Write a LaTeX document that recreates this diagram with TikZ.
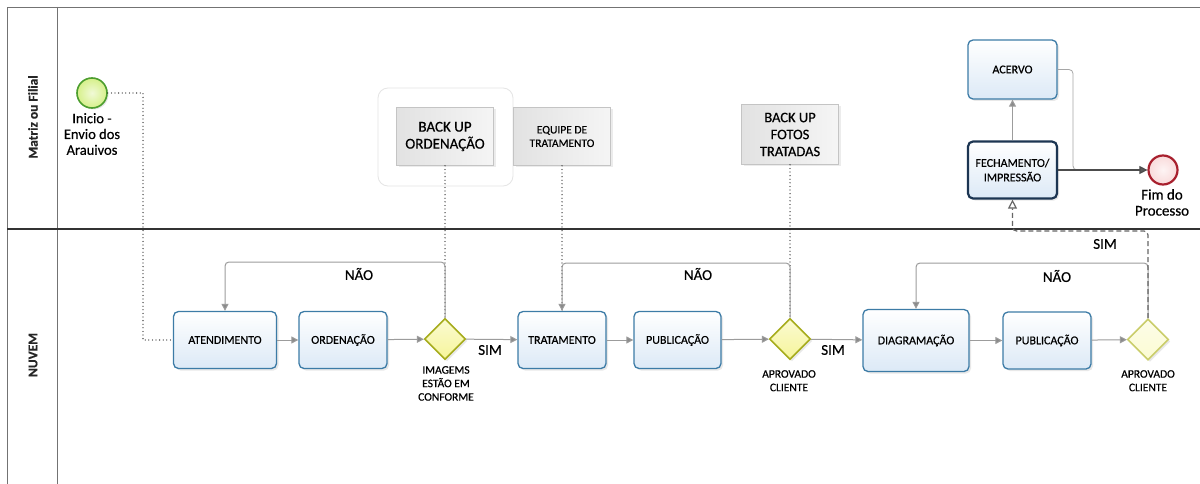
\documentclass[tikz,border=0pt]{standalone}
\usepackage{fontspec}
\setmainfont{Carlito}[FakeBold=0.45]
\usetikzlibrary{shapes.geometric,arrows.meta,shadows}

\definecolor{taskline}{HTML}{3C7BA6}
\definecolor{taskfill}{HTML}{DCE9F6}
\definecolor{closeline}{HTML}{1C3552}
\definecolor{gateline}{HTML}{A6AC1C}
\definecolor{gatefill}{HTML}{F6F59A}
\definecolor{gatepaleline}{HTML}{CACD6A}
\definecolor{gatepalefill}{HTML}{FBFBD2}
\definecolor{startline}{HTML}{4C9E2E}
\definecolor{startfill}{HTML}{D6F08A}
\definecolor{endline}{HTML}{A8202E}
\definecolor{endfill}{HTML}{F9DADA}
\definecolor{flowgray}{HTML}{9C9C9C}
\definecolor{tipgray}{HTML}{8A8A8A}
\definecolor{notefill}{HTML}{E2E2E2}
\definecolor{noteline}{HTML}{C4C4C4}

\tikzset{
  poolline/.style={draw=black!55, line width=0.9pt},
  lanesep/.style={draw=black!80, line width=1.6pt},
  lanelabel/.style={font=\bfseries\fontsize{13.5}{15}\selectfont, text=black!85},
  task/.style={draw=taskline, line width=1.3pt, rounded corners=5pt,
    top color=white, bottom color=taskfill, minimum width=88pt, minimum height=57pt,
    align=center, inner sep=2pt, font=\fontsize{12}{14.5}\selectfont,
    drop shadow={shadow xshift=2pt, shadow yshift=-2pt, opacity=0.18}},
  closing/.style={draw=closeline, line width=2.2pt},
  gate/.style={diamond, draw=gateline, line width=1.6pt, top color=gatefill!45, bottom color=gatefill,
    minimum width=41pt, minimum height=41pt, inner sep=0pt,
    drop shadow={shadow xshift=2pt, shadow yshift=-2pt, opacity=0.18}},
  gatepale/.style={draw=gatepaleline, top color=gatepalefill!50, bottom color=gatepalefill},
  gatelabel/.style={anchor=north, align=center, font=\fontsize{11.5}{13.5}\selectfont, inner sep=0pt},
  startev/.style={circle, draw=startline, line width=1.6pt, inner color=startfill!35, outer color=startfill,
    minimum size=30pt, inner sep=0pt,
    drop shadow={shadow xshift=1.5pt, shadow yshift=-1.5pt, opacity=0.2}},
  endev/.style={circle, draw=endline, line width=2.2pt, inner color=endfill!30, outer color=endfill,
    minimum size=29pt, inner sep=0pt},
  evlabel/.style={anchor=north, align=center, font=\fontsize{14.5}{15.8}\selectfont, inner sep=0pt},
  annot/.style={draw=noteline, line width=0.7pt, left color=notefill, right color=white!96!black,
    align=center, inner sep=2pt, minimum width=97pt, minimum height=58pt,
    drop shadow={shadow xshift=2pt, shadow yshift=-2pt, opacity=0.15}},
  halo/.style={draw=black!10, line width=0.8pt, rounded corners=10pt, fill=white,
    minimum width=135pt, minimum height=98pt},
  flow/.style={draw=flowgray, line width=1pt, rounded corners=4pt,
    -{Triangle[length=7pt, width=7pt, fill=tipgray]}},
  flowdark/.style={draw=black!70, line width=1.1pt,
    -{Triangle[length=8pt, width=8pt, fill=black!65]}},
  flowthin/.style={draw=black!35, line width=0.8pt, rounded corners=4pt},
  assoc/.style={draw=black!85, line width=1.3pt, line cap=round, dash pattern=on 0pt off 3.6pt},
  yesflow/.style={draw=black!60, line width=1.2pt, dash pattern=on 5pt off 3pt, rounded corners=4pt,
    -{Triangle[open, length=9pt, width=9pt, fill=white]}},
  flowlabel/.style={font=\fontsize{15}{16}\selectfont, inner sep=0pt}
}

\begin{document}
\begin{tikzpicture}[x=1pt, y=-1pt]
  \useasboundingbox (0,0) rectangle (1200,484);
  \fill[white] (0,0) rectangle (1200,484);

  % pool frame and lanes
  \draw[poolline] (1200,7) -- (7,7) -- (7,484);
  \draw[poolline] (57,7) -- (57,484);
  \draw[lanesep] (7,229) -- (1200,229);
  \node[lanelabel, rotate=90] (laneTop) at (33,117) {Matriz ou Filial};
  \node[lanelabel, rotate=90] (laneCloud) at (33,355) {NUVEM};

  % upper lane: start, data notes, closing tasks, end
  \node[startev] (start) at (92,93) {};
  \node[evlabel] (startlbl) at (92,113) {Inicio -\\Envio dos\\Arauivos};

  \node[halo] (bkhalo) at (445.5,137) {};
  \node[annot, font=\fontsize{15}{17}\selectfont] (bk1) at (445,136.5) {BACK UP\\ORDENAÇÃO};
  \node[annot, font=\fontsize{11.5}{13.5}\selectfont] (team) at (562,136.5) {EQUIPE DE\\TRATAMENTO};
  \node[annot, font=\fontsize{14.5}{17}\selectfont, minimum height=60pt] (bk2) at (790,134.5) {BACK UP\\FOTOS\\TRATADAS};

  \node[task, minimum width=89pt, minimum height=59pt] (acervo) at (1012.5,69.5) {ACERVO};
  \node[task, closing, minimum width=89pt, minimum height=57pt] (fech) at (1012.5,170) {FECHAMENTO/\\IMPRESSÃO};
  \node[endev] (end) at (1163,170) {};
  \node[evlabel, font=\fontsize{15}{16}\selectfont] (endlbl) at (1162,189) {Fim do\\Processo};

  % lower lane: tasks and gateways
  \node[task, minimum width=103pt] (aten) at (225,340) {ATENDIMENTO};
  \node[task] (orden) at (343,340) {ORDENAÇÃO};
  \node[gate] (g1) at (445,339) {};
  \node[gatelabel] (g1lbl) at (446,366) {IMAGEMS\\ESTÃO EM\\CONFORME};
  \node[task] (trat) at (562,340) {TRATAMENTO};
  \node[task, minimum width=87pt] (pub1) at (677.5,340) {PUBLICAÇÃO};
  \node[gate] (g2) at (790,339) {};
  \node[gatelabel] (g2lbl) at (789,370) {APROVADO\\CLIENTE};
  \node[task, minimum width=106pt, minimum height=62pt] (diag) at (916,340.5) {DIAGRAMAÇÃO};
  \node[task] (pub2) at (1047,340.5) {PUBLICAÇÃO};
  \node[gate, gatepale] (g3) at (1148,339.5) {};
  \node[gatelabel] (g3lbl) at (1148,370) {APROVADO\\CLIENTE};

  % routing points
  \coordinate (startbend) at (143,340);
  \coordinate (loopA) at (0,262);
  \coordinate (loopB) at (0,263);
  \coordinate (loopC) at (0,263);
  \coordinate (yesC) at (0,231);
  \coordinate (merge) at (1073,170);

  % associations (dotted)
  \draw[assoc] (start.east) -| (startbend) -- (aten.west);
  \draw[assoc] (bk1.south) -- (g1.north);
  \draw[assoc] (team.south) -- (trat.north);
  \draw[assoc] (bk2.south) -- (g2.north);

  % sequence flows
  \draw[flow] (aten) -- (orden);
  \draw[flow] (orden) -- (g1);
  \draw[flow] (g1) -- (trat);
  \draw[flow] (trat) -- (pub1);
  \draw[flow] (pub1) -- (g2);
  \draw[flow] (g2) -- (diag);
  \draw[flow] (diag) -- (pub2);
  \draw[flow] (pub2) -- (g3);

  \draw[flow] (g1.north) |- (aten.north |- loopA) -- (aten.north);
  \draw[flow] (g2.north) |- (trat.north |- loopB) -- (trat.north);
  \draw[flow] (g3.north) |- (diag.north |- loopC) -- (diag.north);
  \draw[yesflow] (g3.north) |- (fech.south |- yesC) -- (fech.south);

  \draw[flow] (fech.north) -- (acervo.south);
  \draw[flowthin] (acervo.east) -| (merge) -- (end.west);
  \draw[flowdark] (fech.east) -- (end.west);

  % flow labels
  \node[flowlabel] (sim1) at (490,350) {SIM};
  \node[flowlabel] (nao1) at (359,274) {NÃO};
  \node[flowlabel] (sim2) at (833,350) {SIM};
  \node[flowlabel] (nao2) at (698,274) {NÃO};
  \node[flowlabel] (nao3) at (1057,276) {NÃO};
  \node[flowlabel] (sim3) at (1105,244) {SIM};
\end{tikzpicture}
\end{document}
